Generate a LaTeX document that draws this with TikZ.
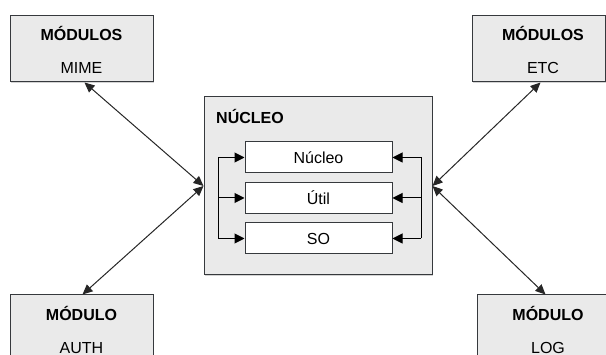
\documentclass[tikz,border=0pt]{standalone}
\usepackage{fontspec}
\setmainfont{Liberation Sans}
\usetikzlibrary{arrows.meta,shadows}
\definecolor{boxfill}{RGB}{234,234,234}
\definecolor{edge}{RGB}{54,57,61}
\begin{document}
\begin{tikzpicture}[x=1pt,y=-1pt,
  panel/.style={draw=edge, fill=boxfill, line width=1pt, rectangle, inner sep=0pt,
    drop shadow={shadow xshift=1pt, shadow yshift=-1.5pt, opacity=0.35}},
  slot/.style={draw=edge, fill=white, line width=1pt, rectangle, inner sep=0pt,
    minimum width=147pt, minimum height=31pt, font=\fontsize{16}{19}\selectfont},
  title/.style={font=\fontsize{16}{19}\selectfont\bfseries, inner sep=0pt},
  sub/.style={font=\fontsize{16}{19}\selectfont, inner sep=0pt},
  tip/.style={Triangle[length=10pt,width=9pt]},
  link/.style={draw=black!85, line width=1pt, {Triangle[length=10pt,width=9pt]}-{Triangle[length=10pt,width=9pt]}},
  feed/.style={draw=black, line width=1pt, -{Triangle[length=10pt,width=10pt]}},
  bar/.style={draw=black, line width=1pt}
]
\useasboundingbox (0,0) rectangle (606,355);
\clip (0,0) rectangle (606,355);

% outer module boxes
\node[panel, minimum width=143pt, minimum height=66pt] (mime) at (81.5,49) {};
\node[title] (mimeT) at (81.5,33) {MÓDULOS};
\node[sub] (mimeS) at (81.5,68) {MIME};

\node[panel, minimum width=133pt, minimum height=66pt] (etc) at (538.5,49) {};
\node[title] (etcT) at (543,33) {MÓDULOS};
\node[sub] (etcS) at (543,68) {ETC};

\node[panel, minimum width=143pt, minimum height=90pt] (auth) at (81.5,340) {};
\node[title] (authT) at (81.5,313) {MÓDULO};
\node[sub] (authS) at (81.5,348) {AUTH};

\node[panel, minimum width=143pt, minimum height=90pt] (log) at (548.5,340) {};
\node[title] (logT) at (548,313) {MÓDULO};
\node[sub] (logS) at (548,348) {LOG};

% kernel container
\node[panel, minimum width=228pt, minimum height=178pt] (core) at (318,186) {};
\node[title, anchor=west] (coreT) at (216,116) {NÚCLEO};

\node[slot] (nuc) at (318.5,157.5) {Núcleo};
\node[slot] (util) at (318.5,198) {Útil};
\node[slot] (so) at (318.5,238.5) {SO};

% distribution bars inside the kernel
\coordinate (lbar) at (218,0);
\coordinate (rbar) at (421,0);
\draw[bar] (nuc.west -| lbar) -- (so.west -| lbar);
\draw[bar] (nuc.east -| rbar) -- (so.east -| rbar);
\foreach \s in {nuc,util,so}{
  \draw[feed] (\s.west -| lbar) -- (\s.west);
  \draw[feed] (\s.east -| rbar) -- (\s.east);
}

% links between modules and kernel
\draw[link] ([xshift=3pt]mime.south) -- (core.west);
\draw[link] (core.west) -- ([xshift=1pt]auth.north);
\draw[link] ([xshift=2pt]etc.south) -- (core.east);
\draw[link] (core.east) -- ([xshift=-3pt]log.north);
\end{tikzpicture}
\end{document}
